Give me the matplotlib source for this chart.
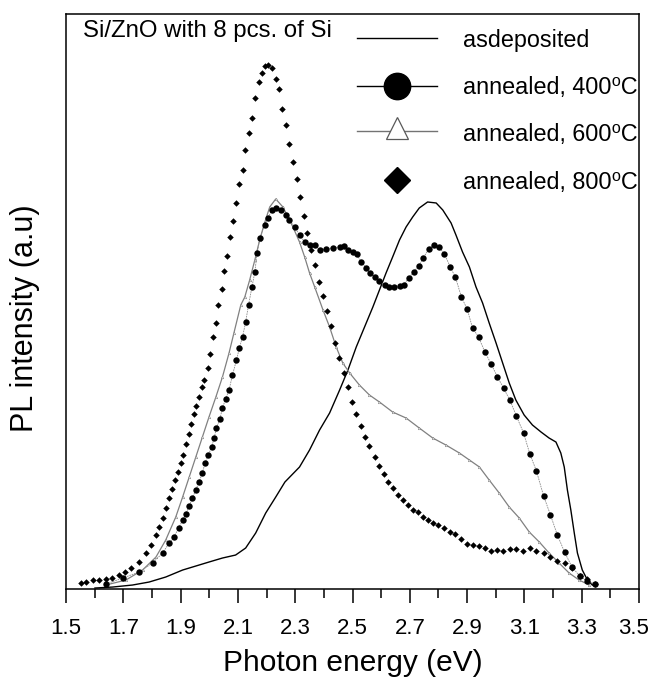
import matplotlib
matplotlib.use("Agg")
import matplotlib.pyplot as plt
from matplotlib.ticker import FixedLocator
from matplotlib.transforms import ScaledTranslation

# PL spectra, photon energy (eV) vs intensity (a.u.)
as_dep_e = [1.601, 1.663, 1.732, 1.790, 1.848, 1.907, 1.953, 1.999, 2.046, 2.092,
            2.127, 2.162, 2.197, 2.232, 2.264, 2.315, 2.350, 2.385, 2.420, 2.455,
            2.484, 2.513, 2.542, 2.571, 2.594, 2.617, 2.640, 2.664, 2.687, 2.710,
            2.733, 2.762, 2.792, 2.815, 2.844, 2.861, 2.884, 2.908, 2.931, 2.954,
            2.977, 3.001, 3.024, 3.047, 3.070, 3.099, 3.128, 3.158, 3.186, 3.210,
            3.227, 3.239, 3.250, 3.262, 3.274, 3.285, 3.302, 3.320, 3.337]
as_dep_i = [1, 2, 4, 7, 12, 19, 23, 27, 31, 34,
            41, 56, 76, 92, 107, 122, 139, 159, 176, 199,
            219, 242, 262, 282, 299, 316, 332, 349, 362, 372,
            381, 387, 386, 379, 366, 354, 337, 322, 302, 286,
            266, 246, 226, 206, 189, 174, 164, 157, 151, 147,
            136, 122, 99, 79, 56, 36, 19, 9, 4]

a400_e = [1.639, 1.698, 1.755, 1.802, 1.837, 1.860, 1.877, 1.893, 1.907, 1.918,
          1.930, 1.941, 1.953, 1.964, 1.976, 1.985, 1.997, 2.008, 2.017, 2.025,
          2.037, 2.046, 2.057, 2.069, 2.081, 2.095, 2.105, 2.116, 2.127, 2.137,
          2.149, 2.159, 2.167, 2.176, 2.193, 2.205, 2.218, 2.232, 2.252, 2.267,
          2.280, 2.298, 2.315, 2.333, 2.350, 2.368, 2.385, 2.408, 2.431, 2.455,
          2.469, 2.484, 2.501, 2.515, 2.530, 2.548, 2.562, 2.577, 2.594, 2.612,
          2.629, 2.646, 2.664, 2.678, 2.696, 2.713, 2.731, 2.747, 2.766, 2.783,
          2.801, 2.821, 2.841, 2.859, 2.880, 2.900, 2.919, 2.940, 2.962, 2.984,
          3.006, 3.027, 3.049, 3.072, 3.097, 3.119, 3.142, 3.167, 3.191, 3.215,
          3.240, 3.266, 3.293, 3.320, 3.346]
a400_i = [5, 11, 17, 26, 36, 46, 52, 61, 69, 75,
          83, 91, 99, 107, 116, 126, 134, 142, 151, 161,
          170, 181, 190, 199, 214, 229, 241, 252, 267, 284,
          302, 317, 336, 351, 364, 371, 379, 381, 379, 374,
          369, 362, 354, 347, 344, 344, 339, 340, 341, 342,
          343, 339, 337, 335, 327, 321, 316, 312, 308, 304,
          302, 302, 303, 304, 311, 317, 323, 331, 340, 344,
          342, 335, 322, 312, 292, 280, 261, 252, 237, 225,
          212, 201, 189, 173, 156, 135, 118, 93, 74, 54,
          37, 22, 13, 8, 5]

a600_e = [1.639, 1.709, 1.767, 1.814, 1.848, 1.883, 1.907, 1.930, 1.953, 1.976,
          1.999, 2.023, 2.046, 2.069, 2.086, 2.110, 2.124, 2.141, 2.159, 2.176,
          2.193, 2.211, 2.232, 2.257, 2.275, 2.292, 2.315, 2.333, 2.350, 2.368,
          2.397, 2.420, 2.443, 2.466, 2.490, 2.524, 2.559, 2.594, 2.640, 2.687,
          2.733, 2.780, 2.826, 2.873, 2.908, 2.943, 2.977, 3.012, 3.047, 3.082,
          3.117, 3.152, 3.186, 3.221, 3.256, 3.291, 3.326]
a600_i = [4, 9, 19, 32, 49, 72, 92, 112, 132, 152,
          172, 192, 212, 236, 256, 284, 292, 309, 329, 349,
          366, 382, 390, 382, 372, 362, 347, 332, 316, 302,
          279, 262, 242, 226, 216, 204, 194, 187, 177, 171,
          161, 151, 144, 136, 129, 122, 109, 96, 82, 71,
          57, 47, 36, 26, 16, 9, 4]

a800_e = [1.552, 1.570, 1.593, 1.615, 1.639, 1.660, 1.686, 1.705, 1.726, 1.755,
          1.779, 1.796, 1.814, 1.825, 1.837, 1.848, 1.858, 1.869, 1.879, 1.890,
          1.900, 1.909, 1.918, 1.928, 1.937, 1.945, 1.954, 1.964, 1.973, 1.983,
          1.994, 2.003, 2.012, 2.023, 2.032, 2.043, 2.052, 2.062, 2.072, 2.083,
          2.095, 2.104, 2.116, 2.126, 2.138, 2.149, 2.161, 2.172, 2.183, 2.194,
          2.206, 2.218, 2.232, 2.242, 2.255, 2.267, 2.278, 2.292, 2.305, 2.316,
          2.329, 2.342, 2.355, 2.369, 2.382, 2.397, 2.412, 2.426, 2.440, 2.454,
          2.469, 2.483, 2.497, 2.513, 2.528, 2.544, 2.559, 2.577, 2.592, 2.609,
          2.625, 2.642, 2.659, 2.675, 2.693, 2.710, 2.728, 2.745, 2.762, 2.780,
          2.797, 2.821, 2.840, 2.859, 2.879, 2.898, 2.919, 2.940, 2.961, 2.983,
          3.004, 3.026, 3.049, 3.072, 3.095, 3.119, 3.142, 3.167, 3.191, 3.215,
          3.240, 3.266, 3.293, 3.320, 3.346]
a800_i = [6, 7, 9, 9, 10, 11, 14, 17, 21, 27,
          36, 44, 54, 62, 71, 81, 91, 100, 109, 117,
          126, 134, 145, 155, 165, 175, 183, 192, 202, 209,
          221, 235, 252, 266, 284, 300, 318, 333, 352, 368,
          386, 405, 419, 439, 456, 471, 491, 507, 516, 523,
          524, 521, 510, 500, 480, 464, 445, 427, 410, 392,
          373, 356, 339, 324, 307, 293, 278, 263, 246, 231,
          216, 202, 187, 175, 163, 152, 143, 132, 123, 115,
          107, 101, 94, 89, 84, 79, 77, 72, 69, 66,
          64, 61, 57, 55, 50, 45, 44, 43, 41, 38,
          39, 38, 40, 40, 38, 41, 38, 36, 32, 28,
          26, 21, 13, 10, 5]

major_ticks = [1.5, 1.7, 1.9, 2.1, 2.3, 2.5, 2.7, 2.9, 3.1, 3.3, 3.5]
minor_ticks = [1.6, 1.8, 2.0, 2.2, 2.4, 2.6, 2.8, 3.0, 3.2, 3.4]
tick_labels = ["1.5", "1.7", "1.9", "2.1", "2.3", "2.5", "2.7", "2.9", "3.1", "3.3", "3.5"]

title = "Si/ZnO with 8 pcs. of Si"
labels = ["asdeposited",
          "annealed, 400\u2070C",
          "annealed, 600\u2070C",
          "annealed, 800\u2070C"]

FAM = ["Liberation Sans", "DejaVu Sans"]
plt.rcParams.update({"font.family": FAM, "font.size": 16.5})

fig = plt.figure(figsize=(6.53, 6.85), dpi=100)
ax = fig.add_axes([0.1011, 0.1401, 0.8775, 0.8395])

ax.plot(as_dep_e, as_dep_i, color="black", lw=1.0)
ax.plot(a600_e, a600_i, color="0.5", lw=0.9, marker="^", ms=1.8,
        mfc="white", mec="0.5", mew=0.4)
ax.plot(a400_e, a400_i, color="0.55", lw=0.6, ls=(0, (2, 1)), marker="o", ms=4.6,
        mfc="black", mec="black", mew=0)
ax.plot(a800_e, a800_i, ls="none", marker="D", ms=3.3,
        mfc="black", mec="black", mew=0)

ax.set_xlim(1.5, 3.5)
ax.set_ylim(0, 575)
ax.xaxis.set_major_locator(FixedLocator(major_ticks))
ax.xaxis.set_minor_locator(FixedLocator(minor_ticks))
ax.set_xticklabels(tick_labels)
ax.tick_params(axis="x", which="major", direction="out", length=10, width=1.1,
               pad=11, labelsize=16)
ax.tick_params(axis="x", which="minor", direction="out", length=6.5, width=1.1)
ax.set_yticks([])
for s in ax.spines.values():
    s.set_linewidth(1.1)
# last label sits a little left of its tick, as in the original
last = ax.get_xticklabels()[-1]
last.set_transform(last.get_transform() + ScaledTranslation(-0.05, 0, fig.dpi_scale_trans))

ax.set_xlabel("Photon energy (eV)", fontsize=21.5, va="center")
ax.xaxis.set_label_coords(0.5, -0.1287)
ax.set_ylabel("PL intensity (a.u)", fontsize=22, va="center")
ax.yaxis.set_label_coords(-0.0716, 0.471)

# hand-made legend in axes fraction
tr = ax.transAxes
ax.text(0.0297, 0.9605, title, transform=tr, fontsize=17.3, va="baseline")
rows = [0.9577, 0.8753, 0.797, 0.7118]
base = [0.9421, 0.8609, 0.7786, 0.6957]
ax.plot([0.508, 0.647], [rows[0]] * 2, transform=tr, color="black", lw=1.0)
ax.plot([0.508, 0.647], [rows[1]] * 2, transform=tr, color="black", lw=1.0)
ax.plot([0.577], [rows[1]], transform=tr, marker="o", ms=19, color="black")
ax.plot([0.508, 0.647], [rows[2]] * 2, transform=tr, color="0.45", lw=1.0)
ax.plot([0.577], [rows[2] + 0.004], transform=tr, marker="^", ms=15.5,
        mfc="white", mec="0.35", mew=0.9)
ax.plot([0.577], [rows[3]], transform=tr, marker="D", ms=13.6, color="black")
for lab, y in zip(labels, base):
    ax.text(0.6934, y, lab, transform=tr, fontsize=16.8, va="baseline")

fig.savefig("out.png", dpi=100)
